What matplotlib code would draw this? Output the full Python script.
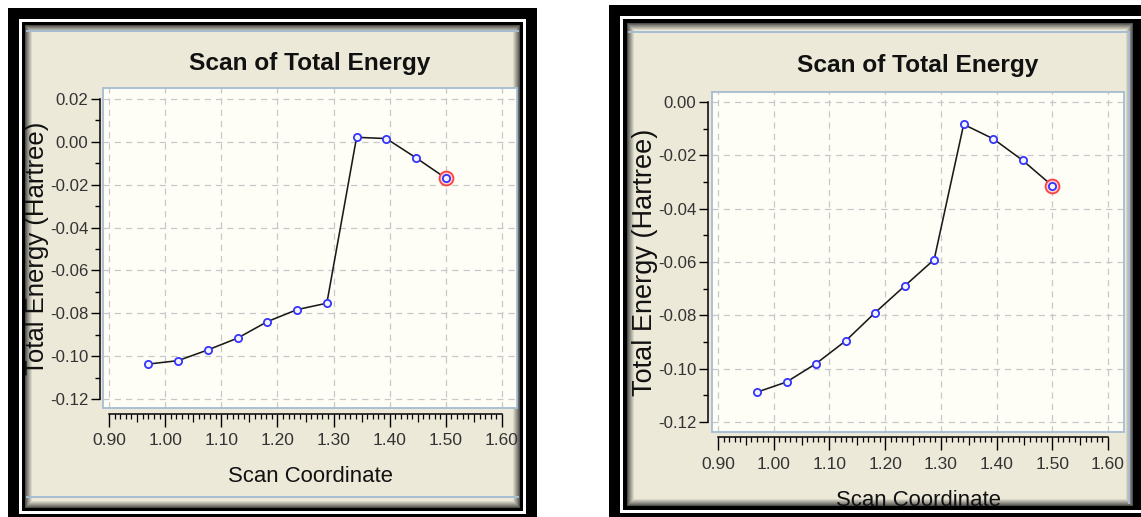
import numpy as np
import matplotlib
matplotlib.use("Agg")
import matplotlib.pyplot as plt
from matplotlib.patches import Rectangle
from matplotlib.ticker import FixedLocator, MultipleLocator, FormatStrFormatter
from matplotlib import font_manager

W, H = 1141, 517

# scan data
scan_coord = [0.970, 1.023, 1.076, 1.129, 1.182, 1.235, 1.288, 1.341, 1.394, 1.447, 1.500]
energy_left = [-0.1037, -0.1021, -0.0971, -0.0916, -0.0839, -0.0783, -0.0753,
               0.0021, 0.0015, -0.0075, -0.0170]
energy_right = [-0.1088, -0.1050, -0.0981, -0.0896, -0.0790, -0.0690, -0.0591,
                -0.0084, -0.0138, -0.0219, -0.0314]

x_ticks = [0.90, 1.00, 1.10, 1.20, 1.30, 1.40, 1.50, 1.60]
y_ticks_left = [0.02, 0.00, -0.02, -0.04, -0.06, -0.08, -0.10, -0.12]
y_ticks_right = [0.00, -0.02, -0.04, -0.06, -0.08, -0.10, -0.12]

TITLE = "Scan of Total Energy"
XLABEL = "Scan Coordinate"
YLABEL = "Total Energy (Hartree)"

BEIGE = "#ece9d8"
PLOT_BG = "#fefef7"
DARK = "#2a2a2a"
FRAME_BLUE = "#a6bcd2"

names = {f.name for f in font_manager.fontManager.ttflist}
NARROW = "Liberation Sans Narrow" if "Liberation Sans Narrow" in names else "Liberation Sans"
SHRINK = 1.0 if NARROW == "Liberation Sans Narrow" else 0.86
plt.rcParams["font.family"] = [NARROW, "DejaVu Sans"]
plt.rcParams["axes.unicode_minus"] = False


def px_rect(x0, y0, x1, y1):
    return [x0 / W, 1 - y1 / H, (x1 - x0) / W, (y1 - y0) / H]


def blend(c1, c2, f):
    a = np.array(matplotlib.colors.to_rgb(c1))
    b = np.array(matplotlib.colors.to_rgb(c2))
    return tuple(a + (b - a) * f)


def band(ax, x0, y0, x1, y1, t, color):
    for x, y, w, h in [(x0, y0, x1 - x0, t), (x0, y1 - t, x1 - x0, t),
                       (x0, y0, t, y1 - y0), (x1 - t, y0, t, y1 - y0)]:
        ax.add_patch(Rectangle((x, y), w, h, color=color, lw=0))


def panel_fill(ax, x0, y0, x1, y1, n=7):
    ax.add_patch(Rectangle((x0, y0), x1 - x0, y1 - y0, color=BEIGE, lw=0))
    for i in range(n):
        c = blend(DARK, BEIGE, ((i + 1) / (n + 1)) ** 0.8)
        band(ax, x0 + i, y0 + i, x1 - i, y1 - i, 1, c)


def draw_scan(fig, rect, xlim, ylim, energy, y_ticks, left_off, bottom_off,
              title_y, xlabel_y, ylabel_x, xpad, ylabel_size):
    ax = fig.add_axes(px_rect(*rect))
    ax.set_facecolor(PLOT_BG)
    ax.set_xlim(xlim)
    ax.set_ylim(ylim)
    ax.grid(True, which="major", color="#c8c8c8", linestyle=(0, (5, 4)), linewidth=0.9)
    ax.set_axisbelow(True)

    ax.plot(scan_coord, energy, color="#1a1a1a", linewidth=1.15, zorder=3)
    # last point is highlighted in red
    ax.plot(scan_coord[-1], energy[-1], "o", ms=10, mfc="#ffcfcf", mec="#ff4040",
            mew=1.3, zorder=4)
    ax.plot(scan_coord, energy, "o", ms=5.2, mfc="#f4f4ff", mec="#3535ff",
            mew=1.3, linestyle="none", zorder=5)

    for s in ("top", "right"):
        ax.spines[s].set_visible(False)
    ax.spines["left"].set_position(("outward", left_off))
    ax.spines["left"].set_bounds(y_ticks[-1], y_ticks[0])
    ax.spines["bottom"].set_position(("outward", bottom_off))
    ax.spines["bottom"].set_bounds(x_ticks[0], x_ticks[-1])
    for s in ("left", "bottom"):
        ax.spines[s].set_color("black")
        ax.spines[s].set_linewidth(1.1)
    ax.add_patch(Rectangle((0, 0), 1, 1, transform=ax.transAxes, fill=False,
                           ec=FRAME_BLUE, lw=1.3, zorder=6, clip_on=False))

    ax.xaxis.set_major_locator(FixedLocator(x_ticks))
    ax.xaxis.set_minor_locator(FixedLocator(np.round(np.arange(0.90, 1.6001, 0.01), 2)))
    ax.yaxis.set_major_locator(FixedLocator(y_ticks))
    ax.yaxis.set_minor_locator(MultipleLocator(0.01))
    ax.xaxis.set_major_formatter(FormatStrFormatter("%.2f"))
    ax.yaxis.set_major_formatter(FormatStrFormatter("%.2f"))

    ax.tick_params(axis="y", which="major", direction="out", length=6.5, width=1.0,
                   pad=2, labelsize=14 * SHRINK, labelcolor="#333333")
    ax.tick_params(axis="y", which="minor", direction="out", length=3.6, width=1.0)
    ax.tick_params(axis="x", which="major", direction="out", length=9.4, width=1.0,
                   pad=xpad, labelsize=14.5 * SHRINK, labelcolor="#333333")
    ax.tick_params(axis="x", which="minor", direction="out", length=3.6, width=0.9)
    # medium ruler ticks at the half steps
    for t, loc in zip(ax.xaxis.get_minor_ticks(), ax.xaxis.get_minorticklocs()):
        if abs(loc * 20 - round(loc * 20)) < 1e-6:
            t.tick1line.set_markersize(5.8)

    ax.set_title(TITLE, fontsize=20.5 * SHRINK, fontweight="bold", y=title_y, pad=0,
                 color="#111111")
    ax.set_xlabel(XLABEL, fontsize=18.5 * SHRINK, va="baseline", color="#111111")
    ax.xaxis.set_label_coords(0.5, xlabel_y)
    ax.set_ylabel(YLABEL, fontsize=ylabel_size, family=["Liberation Sans", "DejaVu Sans"],
                  va="center", ha="center", color="#111111")
    ax.yaxis.set_label_coords(ylabel_x, 0.5)
    return ax


fig = plt.figure(figsize=(W / 100, H / 100), dpi=100, facecolor="white")

bg = fig.add_axes([0, 0, 1, 1], zorder=-5)
bg.set_xlim(0, W)
bg.set_ylim(H, 0)
bg.axis("off")
panel_fill(bg, 25, 25, 520, 508)
bg.plot([27, 518], [31, 31], color=FRAME_BLUE, lw=1.4)
bg.plot([27, 518], [497, 497], color=FRAME_BLUE, lw=1.4)
panel_fill(bg, 627, 23, 1133, 506)
bg.plot([629, 1129], [32, 32], color=FRAME_BLUE, lw=1.4)
bg.plot([1129, 1129], [32, 503], color=FRAME_BLUE, lw=1.4)

draw_scan(fig, (103, 88, 517, 408), (0.8893, 1.6267), (-0.1242, 0.0251),
          energy_left, y_ticks_left, 2.16, 4.32, 1.056, -0.231, -0.159, 4.3, 18.5)
draw_scan(fig, (712, 92, 1124, 432), (0.8892, 1.6288), (-0.12375, 0.00375),
          energy_right, y_ticks_right, 2.88, 3.6, 1.0588, -0.2176, -0.1626, 5.0, 19.5)

fg = fig.add_axes([0, 0, 1, 1], zorder=10)
fg.set_xlim(0, W)
fg.set_ylim(H, 0)
fg.axis("off")
fg.patch.set_visible(False)
# left window frame
band(fg, 8, 8, 537, 525, 11, "black")
band(fg, 19, 19, 526, 514, 3, "white")
band(fg, 22, 22, 523, 511, 3, "black")
# right window frame
band(fg, 609, 5, 1160, 524, 11, "black")
band(fg, 620, 16, 1149, 513, 3, "white")
band(fg, 623, 19, 1146, 510, 4, "black")
fg.add_patch(Rectangle((1133, 19), 13, 491, color="black", lw=0))

fig.savefig("out.png", dpi=100, facecolor=fig.get_facecolor())
